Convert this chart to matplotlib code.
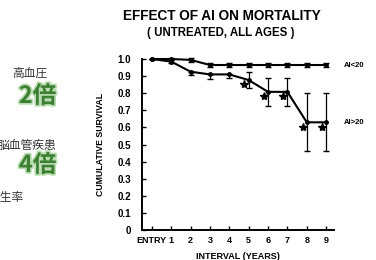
import matplotlib
matplotlib.use('Agg')
import matplotlib.pyplot as plt
import matplotlib.patheffects as pe

plt.rcParams['font.family'] = ['Liberation Sans', 'Noto Sans CJK JP', 'DejaVu Sans']

# data
intervals = [0, 1, 2, 3, 4, 5, 6, 7, 8, 9]
xlabels = ['ENTRY', '1', '2', '3', '4', '5', '6', '7', '8', '9']
low_ai = [1.0, 1.0, 0.995, 0.965, 0.965, 0.965, 0.965, 0.965, 0.965, 0.965]
low_err = [0.0, 0.005, 0.01, 0.01, 0.01, 0.01, 0.01, 0.01, 0.01, 0.01]
high_ai = [1.0, 0.985, 0.926, 0.91, 0.91, 0.877, 0.808, 0.808, 0.63, 0.63]
high_lo = [0.0, 0.01, 0.02, 0.025, 0.02, 0.047, 0.085, 0.085, 0.17, 0.17]
high_hi = [0.0, 0.01, 0.0, 0.0, 0.0, 0.049, 0.082, 0.082, 0.17, 0.17]
star_x = [5, 6, 7, 8, 9]
star_y = [0.877, 0.808, 0.808, 0.63, 0.63]

fig = plt.figure(figsize=(3.76, 2.60), dpi=100)
ax = fig.add_axes([0.378, 0.115, 0.51, 0.658])

ax.errorbar(intervals, low_ai, yerr=low_err, color='black', lw=1.5,
            marker='o', ms=2.5, capsize=2, elinewidth=0.9, clip_on=False)
ax.errorbar(intervals, high_ai, yerr=[high_lo, high_hi], color='black', lw=1.5,
            marker='o', ms=2.5, capsize=2, elinewidth=0.9, clip_on=False)
ax.plot([x - 0.22 for x in star_x], [y - 0.025 for y in star_y], ls='none',
        marker='*', ms=6, color='black', clip_on=False)

ax.set_xlim(-0.5, 9.4)
ax.set_ylim(0, 1.0)
ax.set_xticks(intervals)
ax.set_xticklabels(xlabels)
ax.set_yticks([i / 10 for i in range(11)])
ax.set_yticklabels(['0'] + ['%.1f' % (i / 10) for i in range(1, 11)])
ax.tick_params(direction='in', length=3, width=1, labelsize=7, pad=8)
for lab in ax.get_xticklabels() + ax.get_yticklabels():
    lab.set_fontweight('bold')
ax.tick_params(axis='x', pad=4, labelsize=6.5)
for s in ['top', 'right']:
    ax.spines[s].set_visible(False)
for s in ['left', 'bottom']:
    ax.spines[s].set_linewidth(1.4)

ax.set_xlabel('INTERVAL (YEARS)', fontsize=6.5, fontweight='bold', labelpad=5)
ax.set_ylabel('CUMULATIVE SURVIVAL', fontsize=6.3, fontweight='bold', labelpad=9)

ax.text(9.9, 0.965, 'AI<20', fontsize=5.5, fontweight='bold', va='center')
ax.text(9.9, 0.63, 'AI>20', fontsize=5.5, fontweight='bold', va='center')

fig.text(0.59, 0.94, 'EFFECT OF AI ON MORTALITY', fontsize=9.8,
         fontweight='bold', ha='center', va='center')
fig.text(0.587, 0.873, '( UNTREATED, ALL AGES )', fontsize=8.3,
         fontweight='bold', ha='center', va='center')

# cropped slide text on the left
glow = [pe.withStroke(linewidth=2.5, foreground='#b9dcb0')]
jp = ['Noto Sans CJK JP', 'DejaVu Sans']
fig.text(0.08, 1 - 73 / 260, '高血圧', family=jp, fontsize=8.5,
         ha='center', va='center', color='#333333')
fig.text(0.1, 1 - 96 / 260, '2倍', family=jp, fontsize=17, fontweight='bold',
         ha='center', va='center', color='#3b7f33', path_effects=glow)
fig.text(-0.005, 1 - 146 / 260, '脳血管疾患', family=jp, fontsize=8.5,
         ha='left', va='center', color='#333333')
fig.text(0.1, 1 - 165 / 260, '4倍', family=jp, fontsize=17, fontweight='bold',
         ha='center', va='center', color='#3b7f33', path_effects=glow)
fig.text(-0.03, 1 - 197 / 260, '発生率', family=jp, fontsize=8.5,
         ha='left', va='center', color='#333333')

fig.savefig('out.png', dpi=100)
